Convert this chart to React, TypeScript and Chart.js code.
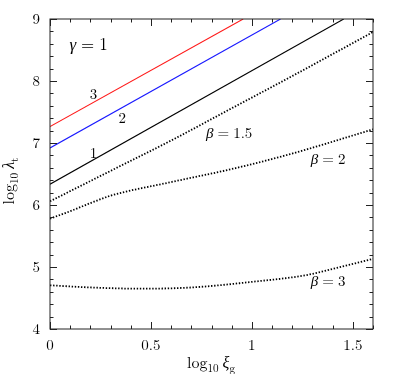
import React, { useEffect, useRef } from "react";
import { Chart, registerables } from "chart.js";

Chart.register(...registerables);

// ---- data ----
const xRed = [0, 0.957];
const yRed = [7.265, 9.0];

const xBlue = [0, 1.142];
const yBlue = [6.92, 9.0];

const xBlack = [0, 1.455];
const yBlack = [6.335, 9.0];

const xB15 = [0, 0.3, 0.6, 0.9, 1.2, 1.6];
const yB15 = [6.06, 6.55, 7.04, 7.56, 8.08, 8.79];

const xB2 = [0, 0.1, 0.2, 0.3, 0.6, 0.9, 1.2, 1.6];
const yB2 = [5.78, 5.9, 6.03, 6.15, 6.37, 6.58, 6.83, 7.22];

const xB3 = [0, 0.2, 0.45, 0.7, 1.0, 1.27, 1.45, 1.6];
const yB3 = [4.705, 4.67, 4.65, 4.67, 4.76, 4.87, 5.01, 5.13];

const xMajorTicks = [0, 0.5, 1, 1.5];
const xTickLabels = ["0", "0.5", "1", "1.5"];
const yMajorTicks = [4, 5, 6, 7, 8, 9];
const yTickLabels = ["4", "5", "6", "7", "8", "9"];

// text annotations
const annoGammaX = 0.096, annoGammaY = 8.58;
const annoNums = ["3", "2", "1"];
const annoNumX = [0.215, 0.358, 0.215];
const annoNumY = [7.78, 7.4, 6.84];
const annoBetaText = ["1.5", "2", "3"];
const annoBetaX = [0.773, 1.292, 1.292];
const annoBetaY = [7.16, 6.74, 4.77];

const FONT = "\"Latin Modern Roman\", \"Liberation Serif\", serif";

function toPts(xs: number[], ys: number[]) {
  return xs.map((x, i) => ({ x, y: ys[i] }));
}

function drawMath(ctx: CanvasRenderingContext2D, x: number, y: number, sym: string, rest: string, size: number, gap: number) {
  ctx.save();
  ctx.fillStyle = "#000";
  ctx.textBaseline = "middle";
  ctx.textAlign = "left";
  ctx.font = `italic ${size}px ${FONT}`;
  ctx.fillText(sym, x, y);
  let cx = x + ctx.measureText(sym).width + gap;
  ctx.font = `${size}px ${FONT}`;
  ctx.fillText("=", cx, y);
  cx += ctx.measureText("=").width + gap;
  ctx.fillText(rest, cx, y);
  ctx.restore();
}

type Seg = { t: string; italic?: boolean; sub?: boolean; gap?: number };

function segWidth(ctx: CanvasRenderingContext2D, segs: Seg[], size: number) {
  let w = 0;
  for (const s of segs) {
    const fs = s.sub ? size * 0.7 : size;
    ctx.font = `${s.italic ? "italic " : ""}${fs}px ${FONT}`;
    w += ctx.measureText(s.t).width + (s.gap || 0);
  }
  return w;
}

function drawSegs(ctx: CanvasRenderingContext2D, segs: Seg[], x: number, y: number, size: number) {
  let cx = x;
  for (const s of segs) {
    const fs = s.sub ? size * 0.7 : size;
    ctx.font = `${s.italic ? "italic " : ""}${fs}px ${FONT}`;
    ctx.fillText(s.t, cx, y + (s.sub ? size * 0.26 : 0));
    cx += ctx.measureText(s.t).width + (s.gap || 0);
  }
}

const framePlugin = {
  id: "frameTicks",
  afterDraw(chart: any) {
    const ctx: CanvasRenderingContext2D = chart.ctx;
    const { left, right, top, bottom } = chart.chartArea;
    const xs = chart.scales.x;
    const ys = chart.scales.y;
    ctx.save();
    ctx.strokeStyle = "#222";
    ctx.lineWidth = 1;
    ctx.strokeRect(left, top, right - left, bottom - top);
    ctx.beginPath();
    for (let i = 0; i <= 16; i++) {
      const v = i / 10;
      const px = Math.round(xs.getPixelForValue(v)) + 0.5;
      const len = i % 5 === 0 ? 7 : 3.5;
      ctx.moveTo(px, bottom);
      ctx.lineTo(px, bottom - len);
      ctx.moveTo(px, top);
      ctx.lineTo(px, top + len);
    }
    for (let i = 0; i <= 25; i++) {
      const v = 4 + i * 0.2;
      const py = Math.round(ys.getPixelForValue(v)) + 0.5;
      const len = i % 5 === 0 ? 7 : 3.5;
      ctx.moveTo(left, py);
      ctx.lineTo(left + len, py);
      ctx.moveTo(right, py);
      ctx.lineTo(right - len, py);
    }
    ctx.stroke();

    drawMath(ctx, xs.getPixelForValue(annoGammaX), ys.getPixelForValue(annoGammaY), "γ", "1", 17, 5);
    ctx.fillStyle = "#000";
    ctx.font = `15px ${FONT}`;
    ctx.textAlign = "center";
    ctx.textBaseline = "middle";
    annoNums.forEach((t, i) => {
      ctx.fillText(t, xs.getPixelForValue(annoNumX[i]), ys.getPixelForValue(annoNumY[i]));
    });
    annoBetaText.forEach((t, i) => {
      drawMath(ctx, xs.getPixelForValue(annoBetaX[i]), ys.getPixelForValue(annoBetaY[i]), "β", t, 15, 4);
    });

    ctx.fillStyle = "#000";
    ctx.textAlign = "left";
    ctx.textBaseline = "alphabetic";
    const size = 16;
    const xt: Seg[] = [{ t: "log" }, { t: "10", sub: true, gap: 4 }, { t: "ξ", italic: true }, { t: "g", sub: true }];
    const wx = segWidth(ctx, xt, size);
    drawSegs(ctx, xt, 211 - wx / 2, 368, size);

    const yt: Seg[] = [{ t: "log" }, { t: "10", sub: true, gap: 4 }, { t: "λ", italic: true }, { t: "t", sub: true }];
    const wy = segWidth(ctx, yt, size);
    ctx.save();
    ctx.translate(14, 181);
    ctx.rotate(-Math.PI / 2);
    drawSegs(ctx, yt, -wy / 2, 0, size);
    ctx.restore();

    ctx.restore();
  },
};

export default function App() {
  const ref = useRef<HTMLCanvasElement | null>(null);
  useEffect(() => {
    let chart: Chart | null = null;
    let cancelled = false;
    const build = () => {
      if (cancelled || !ref.current) return;
      const solid = (data: any, color: string) => ({
        data,
        borderColor: color,
        borderWidth: 1.1,
        pointRadius: 0,
        fill: false,
        tension: 0,
      });
      const dotted = (data: any) => ({
        data,
        borderColor: "#000",
        borderWidth: 1.8,
        borderDash: [1.4, 1.7],
        pointRadius: 0,
        fill: false,
        cubicInterpolationMode: "monotone" as const,
      });
      chart = new Chart(ref.current, {
        type: "line",
        data: {
          datasets: [
            solid(toPts(xRed, yRed), "#ff1a1a"),
            solid(toPts(xBlue, yBlue), "#1a1aff"),
            solid(toPts(xBlack, yBlack), "#000"),
            dotted(toPts(xB15, yB15)),
            dotted(toPts(xB2, yB2)),
            dotted(toPts(xB3, yB3)),
          ],
        },
        options: {
          responsive: false,
          animation: false,
          events: [],
          layout: { padding: { top: 17, right: 26, left: 0, bottom: 0 } },
          plugins: { legend: { display: false }, tooltip: { enabled: false } },
          scales: {
            x: {
              type: "linear",
              min: 0,
              max: 1.6,
              grid: { display: false, drawTicks: false },
              border: { display: false },
              ticks: {
                padding: 7,
                color: "#000",
                font: { family: FONT, size: 15 },
                maxRotation: 0,
                callback: (v: any) => {
                  const i = xMajorTicks.indexOf(Number(v));
                  return i >= 0 ? xTickLabels[i] : "";
                },
              },
              afterBuildTicks: (s: any) => {
                s.ticks = xMajorTicks.map((v) => ({ value: v }));
              },
              afterFit: (s: any) => {
                s.height = 45;
              },
            },
            y: {
              type: "linear",
              min: 4,
              max: 9,
              grid: { display: false, drawTicks: false },
              border: { display: false },
              ticks: {
                padding: 10,
                color: "#000",
                font: { family: FONT, size: 15 },
                callback: (v: any) => {
                  const i = yMajorTicks.indexOf(Number(v));
                  return i >= 0 ? yTickLabels[i] : "";
                },
              },
              afterBuildTicks: (s: any) => {
                s.ticks = yMajorTicks.map((v) => ({ value: v }));
              },
              afterFit: (s: any) => {
                s.width = 50;
              },
            },
          },
        },
        plugins: [framePlugin],
      });
    };
    const fonts: any = (document as any).fonts;
    if (fonts && fonts.load) {
      Promise.all([
        fonts.load(`15px "Latin Modern Roman"`, "0123456789log"),
        fonts.load(`italic 15px "Latin Modern Roman"`, "βγλξ"),
      ]).then(build, build);
    } else {
      build();
    }
    return () => {
      cancelled = true;
      if (chart) chart.destroy();
    };
  }, []);
  return (
    <div style={{ position: "fixed", left: 0, top: 0, width: 399, height: 374, background: "#fff" }}>
      <canvas ref={ref} width={399} height={374} style={{ display: "block" }} />
    </div>
  );
}
